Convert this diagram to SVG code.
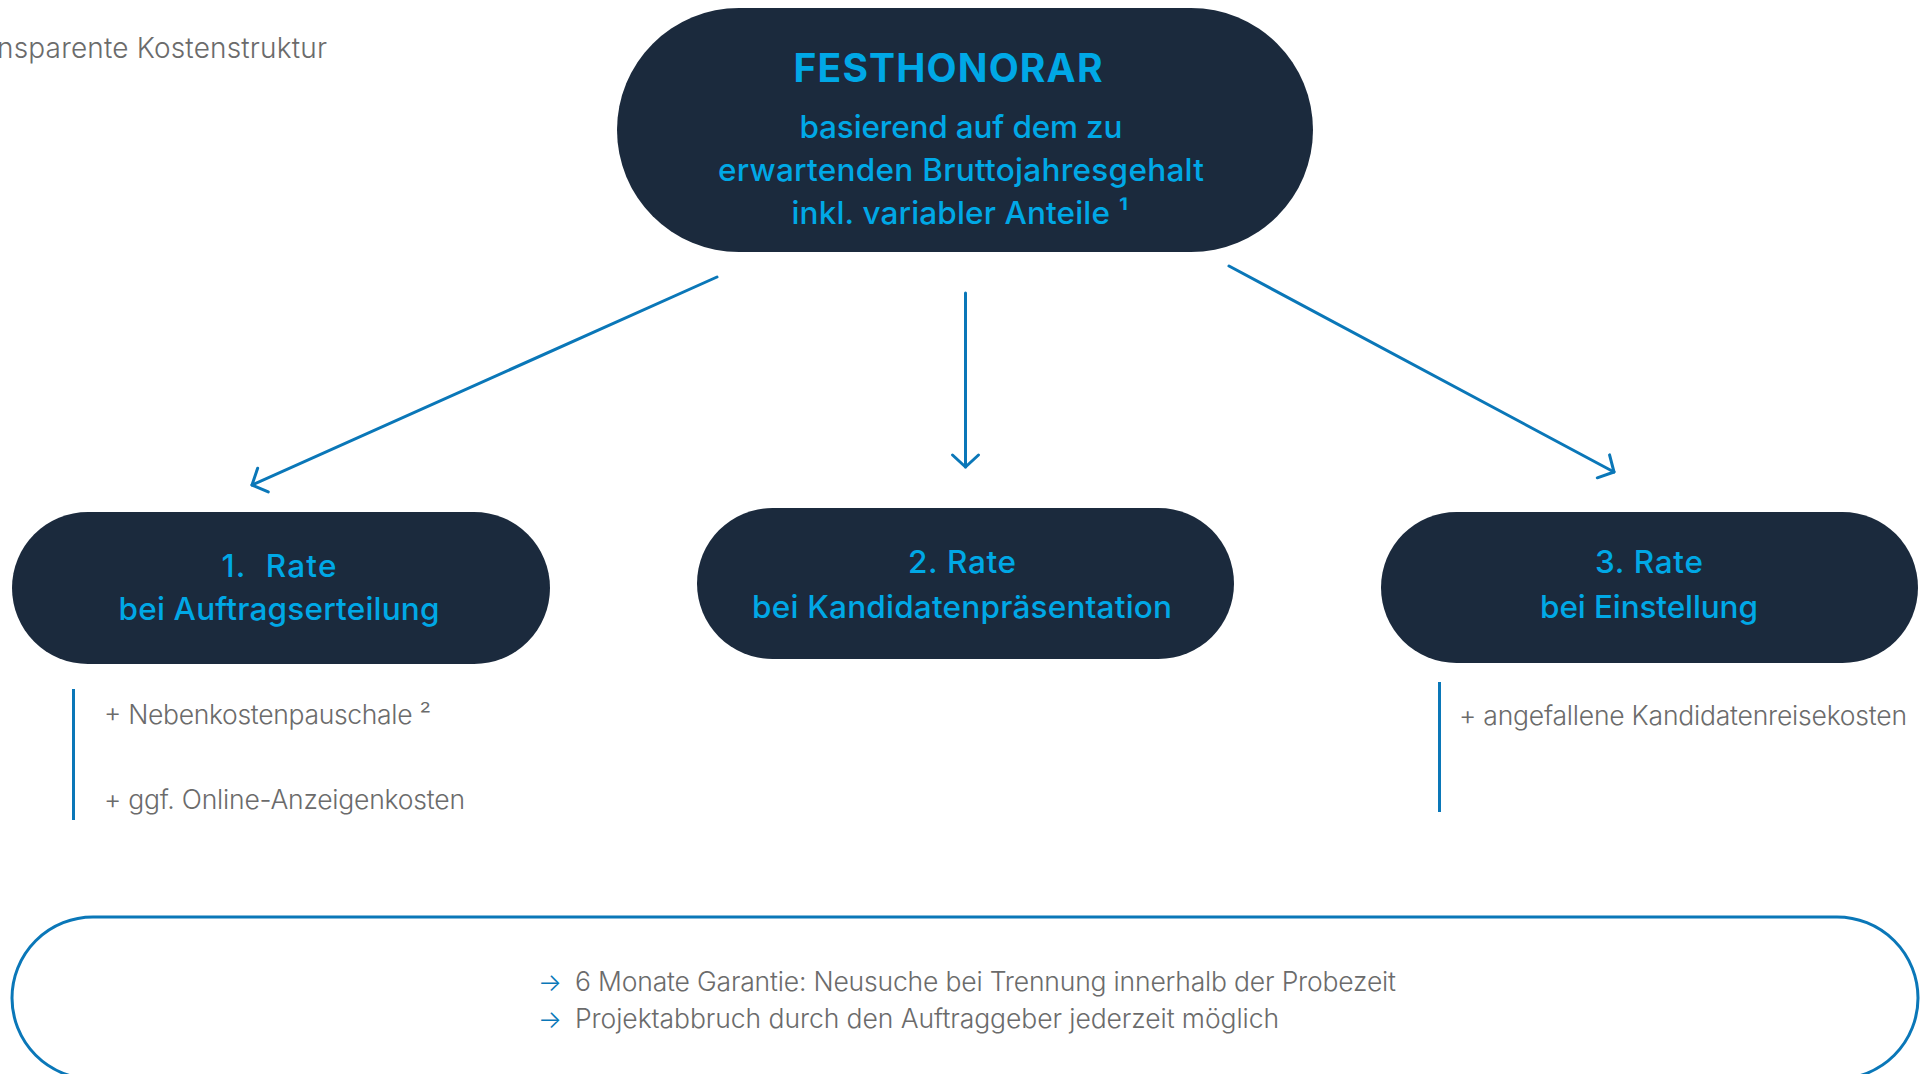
<svg xmlns="http://www.w3.org/2000/svg" width="1921" height="1074" viewBox="0 0 1921 1074">
  <style>
    .node { fill: #1b2a3d; }
    .ntxt { font-family: Inter, "Open Sans", "Liberation Sans", sans-serif; font-weight: 500; fill: #00a8e6; text-anchor: middle; font-size: 31.5px; }
    .head { font-size: 39px; font-weight: 700; }
    .gray { font-family: Inter, "Open Sans", "Liberation Sans", sans-serif; font-weight: 300; fill: #6b6b6b; font-size: 26.5px; }
    .title { font-size: 28px; }
    .conn { stroke: #0a77b8; stroke-width: 3; fill: none; stroke-linecap: round; }
    .bar { stroke: #0a77b8; stroke-width: 3; }
    .bul { font-family: Inter, "DejaVu Sans", sans-serif; font-weight: 300; fill: #0a77b8; font-size: 25px; }
  </style>
  <defs>
    <marker id="arr" markerUnits="userSpaceOnUse" markerWidth="40" markerHeight="40" viewBox="-20 -20 40 40" refX="0" refY="0" orient="auto">
      <path d="M -12 -13 L 0 0 L -12 13" fill="none" stroke="#0a77b8" stroke-width="3" stroke-linecap="round" stroke-linejoin="round"/>
    </marker>
  </defs>
  <rect width="1921" height="1074" fill="#ffffff"/>

  <text class="gray title" x="-3" y="58" textLength="330">nsparente Kostenstruktur</text>

  <g id="connectors">
    <line class="conn" x1="717" y1="277" x2="252" y2="485" marker-end="url(#arr)"/>
    <line class="conn" x1="965.5" y1="293" x2="965.5" y2="467" marker-end="url(#arr)"/>
    <line class="conn" x1="1229" y1="266" x2="1614" y2="472" marker-end="url(#arr)"/>
  </g>

  <g id="festhonorar">
    <rect class="node" x="617" y="8" width="696" height="244" rx="122"/>
    <text class="ntxt head" x="948" y="82" textLength="309">FESTHONORAR</text>
    <text class="ntxt" x="961" y="138" textLength="323">basierend auf dem zu</text>
    <text class="ntxt" x="961" y="181" textLength="486">erwartenden Bruttojahresgehalt</text>
    <text class="ntxt" x="960" y="224" textLength="337">inkl. variabler Anteile ¹</text>
  </g>

  <g id="rate1">
    <rect class="node" x="12" y="512" width="538" height="152" rx="76"/>
    <text class="ntxt" x="279" y="577" xml:space="preserve" textLength="115">1.  Rate</text>
    <text class="ntxt" x="279" y="620" textLength="321">bei Auftragserteilung</text>
  </g>

  <g id="rate2">
    <rect class="node" x="697" y="508" width="537" height="151" rx="75.5"/>
    <text class="ntxt" x="962" y="573" textLength="108">2. Rate</text>
    <text class="ntxt" x="962" y="618" textLength="420">bei Kandidatenpräsentation</text>
  </g>

  <g id="rate3">
    <rect class="node" x="1381" y="512" width="537" height="151" rx="75.5"/>
    <text class="ntxt" x="1649" y="573" textLength="108">3. Rate</text>
    <text class="ntxt" x="1649" y="618" textLength="218">bei Einstellung</text>
  </g>

  <g id="extras1">
    <line class="bar" x1="73.5" y1="689" x2="73.5" y2="820"/>
    <text class="gray" x="104" y="724" textLength="327">+ Nebenkostenpauschale ²</text>
    <text class="gray" x="104" y="809" textLength="361">+ ggf. Online-Anzeigenkosten</text>
  </g>

  <g id="extras3">
    <line class="bar" x1="1439.5" y1="682" x2="1439.5" y2="812"/>
    <text class="gray" x="1459" y="725" textLength="448">+ angefallene Kandidatenreisekosten</text>
  </g>

  <g id="notes">
    <rect x="12" y="917" width="1906" height="162" rx="81" fill="none" stroke="#0a77b8" stroke-width="3"/>
    <text class="bul" x="538" y="991">→</text>
    <text class="gray" x="575" y="991" textLength="821">6 Monate Garantie: Neusuche bei Trennung innerhalb der Probezeit</text>
    <text class="bul" x="538" y="1028">→</text>
    <text class="gray" x="575" y="1028" textLength="704">Projektabbruch durch den Auftraggeber jederzeit möglich</text>
  </g>
</svg>
